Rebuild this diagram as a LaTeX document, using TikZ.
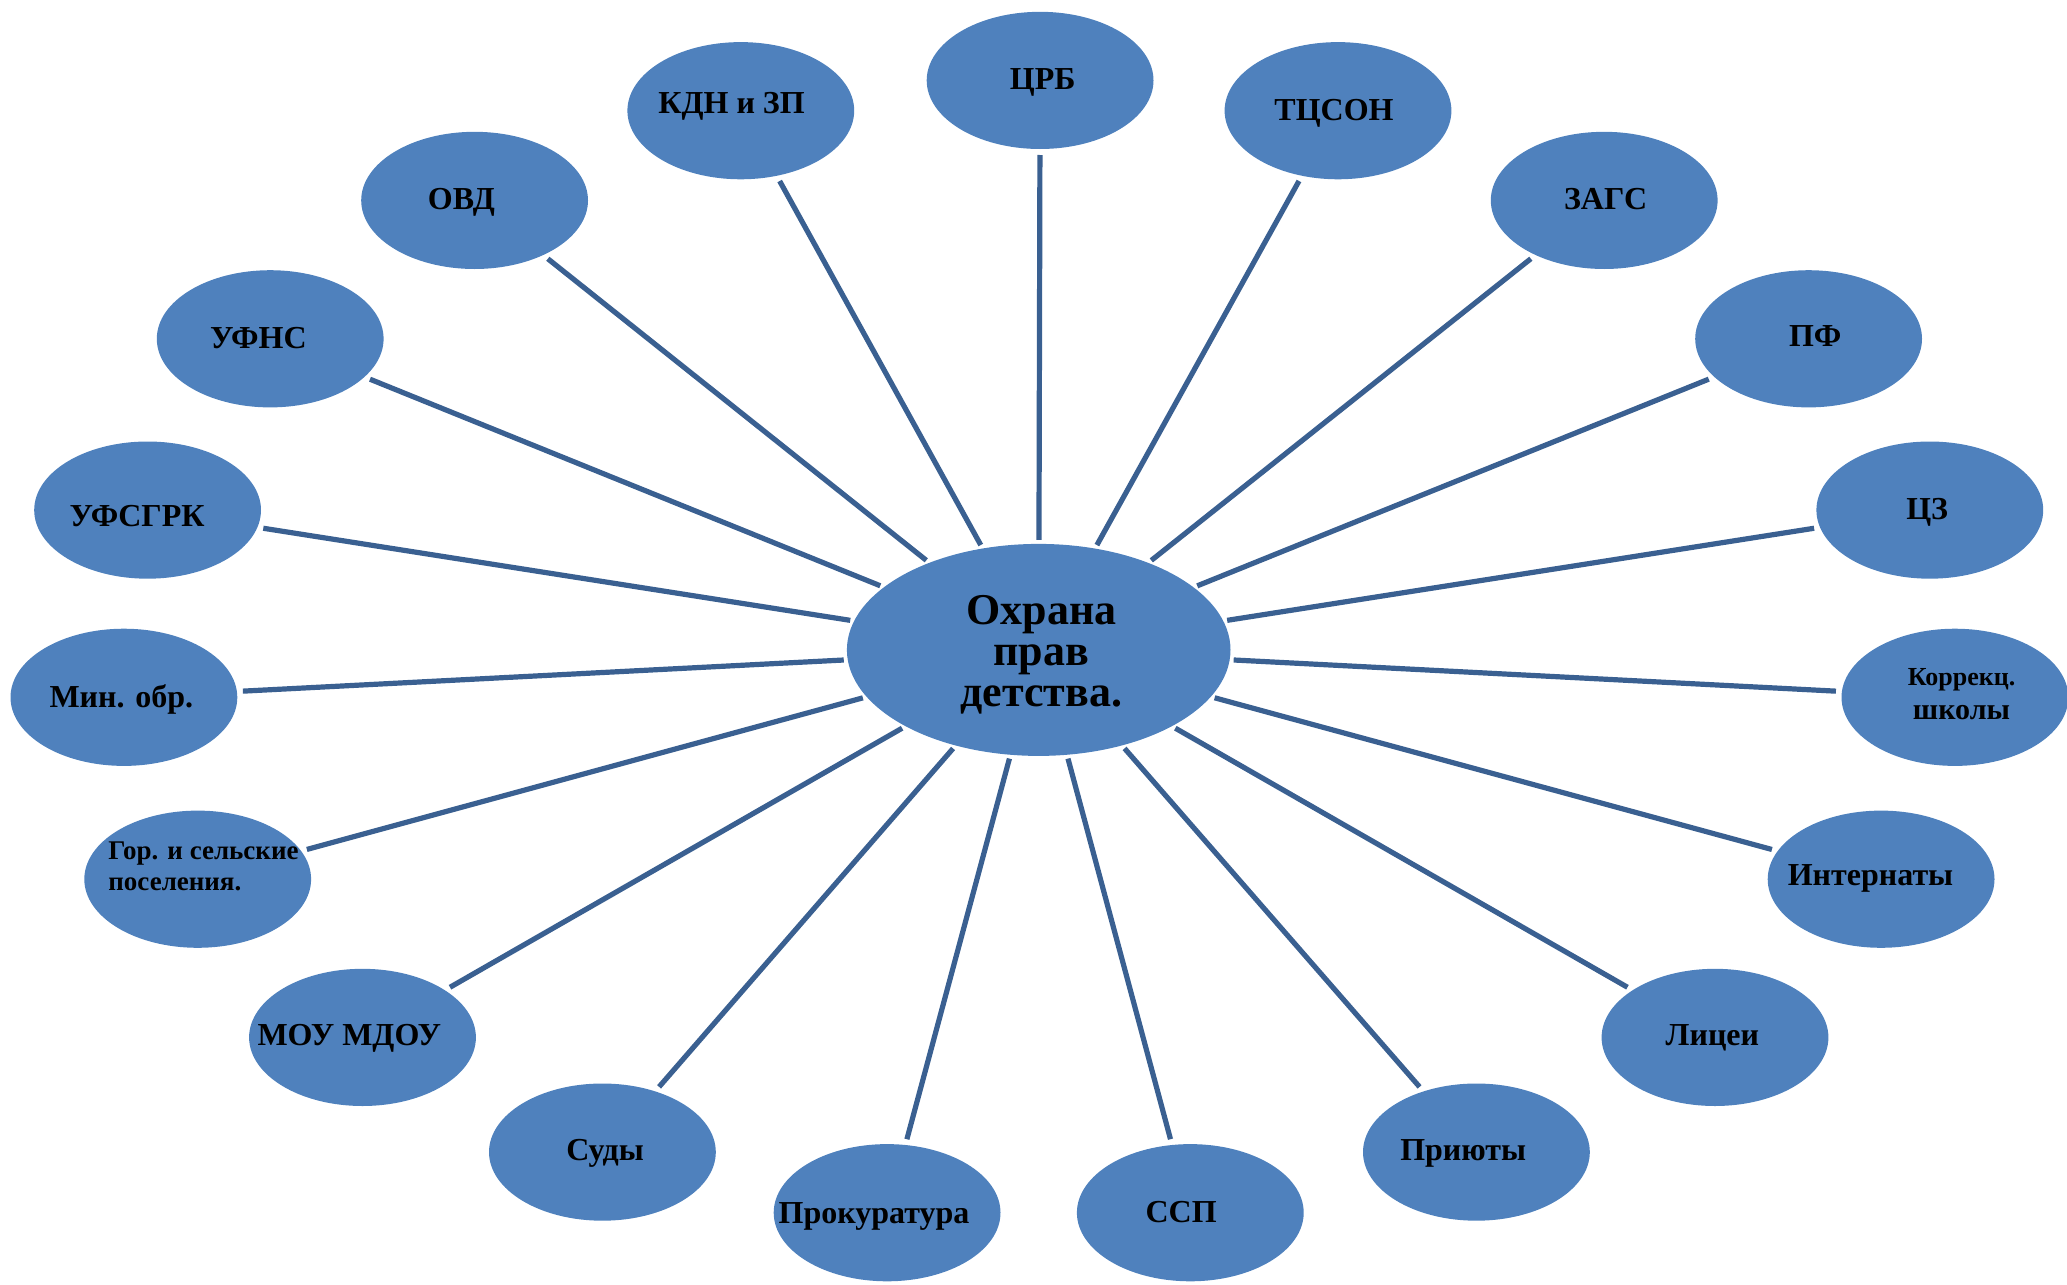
\documentclass[tikz,border=0pt]{standalone}
\usepackage{fontspec}
\setmainfont{Liberation Serif}
\usetikzlibrary{shapes.geometric}
\definecolor{bubble}{HTML}{4F81BD}
\definecolor{spoke}{HTML}{3A6091}
\begin{document}
\begin{tikzpicture}[x=0.5pt,y=-0.5pt,
  bub/.style={ellipse,fill=bubble,draw=none,minimum width=113.4pt,minimum height=68.6pt,inner sep=0pt,outer sep=0pt},
  hub/.style={ellipse,fill=bubble,draw=none,minimum width=191.8pt,minimum height=106pt,inner sep=0pt,outer sep=0pt},
  lbl/.style={font=\bfseries\fontsize{16}{19}\selectfont,text height=10.6pt,text depth=0pt,inner sep=0pt},
  conn/.style={draw=spoke,line width=2.6pt,shorten <=2pt,shorten >=3pt}]
\useasboundingbox (0,0) rectangle (2067,1285);
% hub
\node[hub] (c) at (1038.7,649.9) {};
\node[font=\bfseries\fontsize{22}{20.5}\selectfont,align=center,inner sep=0pt] (ct) at (1041.4,655) {Охрана\\прав\\детства.};
% satellites
\node[bub] (crb) at (1040.1,80.4) {};
\node[bub] (kdn) at (740.8,110.7) {};
\node[bub] (ovd) at (474.6,200.4) {};
\node[bub] (ufns) at (270.2,338.8) {};
\node[bub] (ufsgrk) at (147.6,510.1) {};
\node[bub] (minobr) at (123.9,697.3) {};
\node[bub] (gor) at (197.7,879.2) {};
\node[bub] (mou) at (362.5,1037.4) {};
\node[bub] (sudy) at (602.4,1152.1) {};
\node[bub] (prok) at (887.1,1212.7) {};
\node[bub] (ssp) at (1190.3,1212.7) {};
\node[bub] (priyut) at (1476.4,1152.1) {};
\node[bub] (litsei) at (1715,1037.4) {};
\node[bub] (intern) at (1881.1,879.2) {};
\node[bub] (korr) at (1954.9,697.3) {};
\node[bub] (cz) at (1929.8,510.1) {};
\node[bub] (pf) at (1808.6,338.8) {};
\node[bub] (zags) at (1604.2,200.4) {};
\node[bub] (tcson) at (1338,110.7) {};
% labels
\node[lbl] (crb-t) at (1042.7,79.1) {ЦРБ};
\node[lbl] (kdn-t) at (731.6,102.8) {КДН и ЗП};
\node[lbl] (ovd-t) at (461.4,199) {ОВД};
\node[lbl] (ufns-t) at (258.4,337.5) {УФНС};
\node[lbl] (ufsgrk-t) at (137.1,515.4) {УФСГРК};
\node[lbl] (minobr-t) at (121.3,697.3) {Мин. обр.};
\node[font=\bfseries\fontsize{13.5}{15.5}\selectfont,align=left,inner sep=0pt,anchor=west] (gor-t) at (108,866) {Гор. и сельские\\поселения.};
\node[lbl] (mou-t) at (349.3,1034.8) {МОУ МДОУ};
\node[lbl] (sudy-t) at (605,1149.5) {Суды};
\node[lbl] (prok-t) at (874,1212.7) {Прокуратура};
\node[lbl] (ssp-t) at (1181.1,1211.4) {ССП};
\node[lbl] (priyut-t) at (1463.2,1149.5) {Приюты};
\node[lbl] (litsei-t) at (1712.4,1034.8) {Лицеи};
\node[lbl] (intern-t) at (1870.5,875.3) {Интернаты};
\node[font=\bfseries\fontsize{13}{17}\selectfont,align=center,inner sep=0pt] (korr-t) at (1961.5,694) {Коррекц.\\{\fontsize{15}{17}\selectfont школы}};
\node[lbl] (cz-t) at (1927.2,508.8) {ЦЗ};
\node[lbl] (pf-t) at (1815.2,336.1) {ПФ};
\node[lbl] (zags-t) at (1605.6,199) {ЗАГС};
\node[lbl] (tcson-t) at (1334,109.4) {ТЦСОН};
% spokes
\foreach \n in {crb,kdn,ovd,ufns,ufsgrk,minobr,gor,mou,sudy,prok,ssp,priyut,litsei,intern,korr,cz,pf,zags,tcson}
  \draw[conn] (c) -- (\n);
\end{tikzpicture}
\end{document}
